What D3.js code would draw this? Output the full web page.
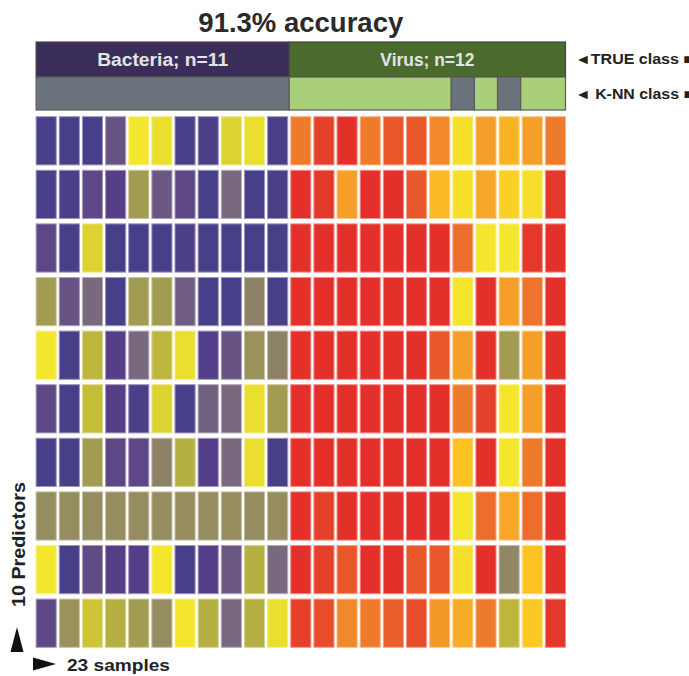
<!DOCTYPE html>
<html>
<head>
<meta charset="utf-8">
<script src="https://cdn.jsdelivr.net/npm/d3@7"></script>
<style>
  html, body { margin: 0; padding: 0; background: #fff; }
  svg { display: block; }
</style>
</head>
<body>
<svg id="chart" width="689" height="676"></svg>
<script>
// Classes of the 23 samples
const trueClass = ["B","B","B","B","B","B","B","B","B","B","B",
                   "V","V","V","V","V","V","V","V","V","V","V","V"];
const knnClass  = ["B","B","B","B","B","B","B","B","B","B","B",
                   "V","V","V","V","V","V","V","B","V","B","V","V"];
const classLabels = { B: "Bacteria; n=11", V: "Virus; n=12" };
const accuracyLabel = "91.3% accuracy";

// Predictor scores (0 = bacterial profile, 10 = viral profile), one array per predictor
const predictor1  = [0,0,0,1.5,5,4.8,0,0.3,4.5,4.8,0.1, 8,9.6,10,8,9,9,7.6,5.2,7,6.4,7,8];
const predictor2  = [0,0.2,1.2,1,3,1.6,1.2,0,2,0,0.1, 10,9.8,7,10,10,9,6.3,5.2,6.8,5.6,5.2,9.8];
const predictor3  = [1.2,0,4.5,0,0,0,0.3,0,0,0,0, 10,10,10,10,10,10,10,8.4,5,5,9.8,10];
const predictor4  = [3,1.5,2,0,3,3,1.7,0,0,2.5,0, 10,10,10,10,10,10,10,5,10,7,8.2,10];
const predictor5  = [5,0,3.8,1,2,3.8,4.8,0.8,1.5,2.8,2.5, 10,10,10,10,10,10,9,7,10,3,7,10];
const predictor6  = [1.2,0,4,1,0.3,4.5,0,1.8,2,4.8,3, 10,10,10,10,10,10,10,8,9.6,5,7,10];
const predictor7  = [0,0,3,1.2,1.2,2.5,3.6,0.8,2,4.8,0, 10,10,10,10,10,10,10,6,10,5,8,10];
const predictor8  = [2.7,2.7,2.7,2.7,2.7,2.7,2.7,2.7,2.7,2.7,2.7, 10,9.6,10,10,10,10,10,5,8.4,6.8,8.4,10];
const predictor9  = [5,0,1.3,1,0.8,5,0,0.8,1.6,3.6,2, 10,9.6,9,10,10,9,9,5.2,10,2.6,6,10];
const predictor10 = [1.2,2.8,4.2,3.6,3,2.7,5,3.6,2,3.6,4.8, 9.6,9.3,7.6,8,8.8,9.3,7.2,6.6,8,3.8,5.8,9.8];
const predictors = [predictor1, predictor2, predictor3, predictor4, predictor5,
                    predictor6, predictor7, predictor8, predictor9, predictor10];

const svg = d3.select("#chart");
const font = "'Liberation Sans', Arial, Helvetica, sans-serif";

const samples = d3.range(trueClass.length);
const x = d3.scaleBand().domain(samples).range([34.6, 567]).paddingInner(0.13).paddingOuter(0.065);
const y = d3.scaleBand().domain(d3.range(predictors.length)).range([114, 650]).paddingInner(0.1).paddingOuter(0.05);

// Score colour ramp: blue -> purple -> olive -> yellow -> orange -> red
const color = d3.scaleLinear()
  .domain([0, 1, 2, 3, 4, 5, 6, 7, 8, 9, 10])
  .range(["#473f88", "#573e89", "#78697e", "#a29b52", "#c4bd38", "#f4e62c",
          "#fbc222", "#f59f2a", "#ee7b2c", "#e9582b", "#e3302a"])
  .interpolate(d3.interpolateRgb)
  .clamp(true);

const left = x(0), right = x(samples.length - 1) + x.bandwidth();
const stepEdge = i => i === 0 ? left : (x(i) + x(i - 1) + x.bandwidth()) / 2;
const stepEnd  = i => i === samples.length - 1 ? right : (x(i) + x.bandwidth() + x(i + 1)) / 2;

// consecutive runs of equal labels -> [label, firstIndex, lastIndex]
function runs(labels) {
  const out = [];
  labels.forEach((l, i) => {
    if (out.length && out[out.length - 1][0] === l) out[out.length - 1][2] = i;
    else out.push([l, i, i]);
  });
  return out;
}

// Title
svg.append("text")
  .attr("x", (left + right) / 2).attr("y", 31.5)
  .attr("text-anchor", "middle")
  .attr("font-family", font).attr("font-weight", "bold").attr("font-size", 27.5)
  .attr("fill", "#2a2a2a")
  .text(accuracyLabel);

// TRUE class bar
const trueColor = { B: "#3b2d5a", V: "#4b6a2d" };
const labelWidth = { B: 131, V: 94 };
const trueTop = 42, trueH = 35;
runs(trueClass).forEach(([cls, a, b]) => {
  const x0 = stepEdge(a), x1 = stepEnd(b);
  svg.append("rect")
    .attr("x", x0).attr("y", trueTop).attr("width", x1 - x0).attr("height", trueH)
    .attr("fill", trueColor[cls]).attr("stroke", "#454545").attr("stroke-width", 1.2);
  svg.append("text")
    .attr("x", (x0 + x1) / 2).attr("y", trueTop + trueH / 2 + 6.5)
    .attr("text-anchor", "middle")
    .attr("font-family", font).attr("font-weight", "bold").attr("font-size", 17.5)
    .attr("textLength", labelWidth[cls]).attr("lengthAdjust", "spacingAndGlyphs")
    .attr("fill", "#e4e4e4")
    .text(classLabels[cls]);
});

// K-NN predicted class bar
const knnColor = { B: "#6b737c", V: "#a9cf78" };
const knnTop = 77, knnH = 33;
svg.append("g").selectAll("rect")
  .data(runs(knnClass))
  .join("rect")
  .attr("x", d => stepEdge(d[1])).attr("y", knnTop)
  .attr("width", d => stepEnd(d[2]) - stepEdge(d[1])).attr("height", knnH)
  .attr("fill", d => knnColor[d[0]])
  .attr("stroke", "#5a5a5a").attr("stroke-width", 1.2);

// Row labels at the right
svg.append("text")
  .attr("x", 575).attr("y", 63.5)
  .attr("font-family", font).attr("font-weight", "bold").attr("font-size", 14)
  .attr("textLength", 118).attr("lengthAdjust", "spacingAndGlyphs")
  .attr("fill", "#222").text("\u25C4TRUE class \u25A0");
svg.append("text")
  .attr("x", 575).attr("y", 99)
  .attr("font-family", font).attr("font-weight", "bold").attr("font-size", 14)
  .attr("textLength", 118).attr("lengthAdjust", "spacingAndGlyphs")
  .attr("fill", "#222").text("\u25C4 K-NN class \u25A0");

// Heatmap cells
const cells = [];
predictors.forEach((row, r) => row.forEach((v, c) => cells.push({ r, c, v })));
svg.append("g").selectAll("rect")
  .data(cells)
  .join("rect")
  .attr("x", d => x(d.c)).attr("y", d => y(d.r))
  .attr("width", x.bandwidth()).attr("height", y.bandwidth())
  .attr("fill", d => color(d.v))
  .attr("stroke", d => d3.interpolateRgb(color(d.v), "#ffffff")(0.45))
  .attr("stroke-width", 1);

// Axis captions
svg.append("text")
  .attr("transform", "translate(25,544.5) rotate(-90)")
  .attr("text-anchor", "middle")
  .attr("font-family", font).attr("font-weight", "bold").attr("font-size", 18)
  .attr("textLength", 125).attr("lengthAdjust", "spacingAndGlyphs")
  .attr("fill", "#222").text("10 Predictors");
svg.append("path")
  .attr("d", d3.line()([[10.5, 652], [17, 627], [23.5, 652]]) + "Z")
  .attr("fill", "#111");
svg.append("path")
  .attr("d", d3.line()([[33, 657.5], [56, 664], [33, 670.5]]) + "Z")
  .attr("fill", "#111");
svg.append("text")
  .attr("x", 67).attr("y", 670.5)
  .attr("font-family", font).attr("font-weight", "bold").attr("font-size", 17)
  .attr("textLength", 103).attr("lengthAdjust", "spacingAndGlyphs")
  .attr("fill", "#222").text("23 samples");
</script>
</body>
</html>
